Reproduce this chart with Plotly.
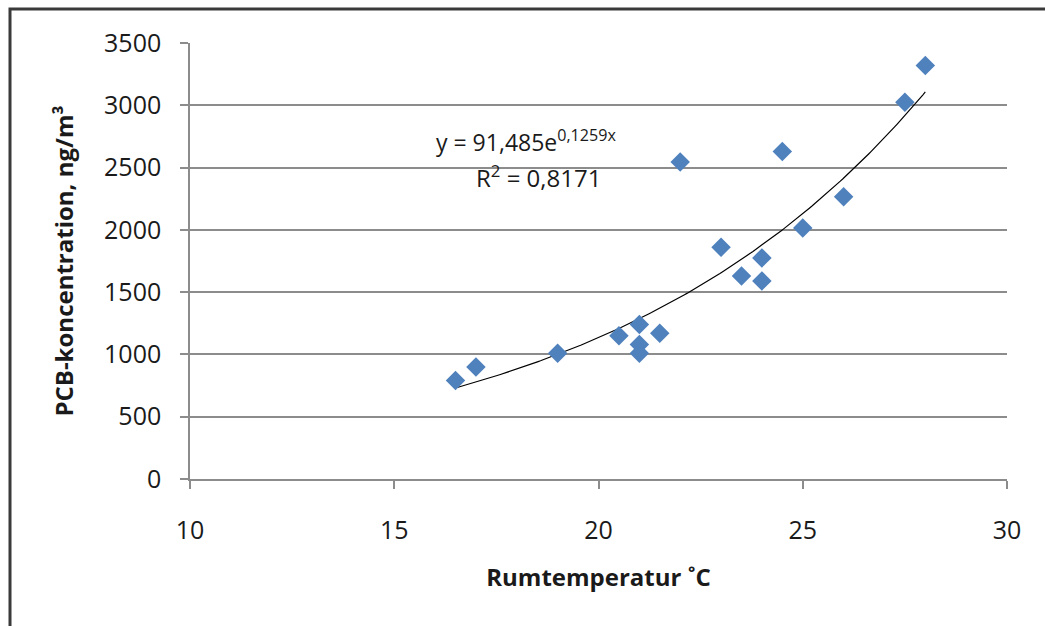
import numpy as np
import plotly.graph_objects as go

temperature = [16.5, 17.0, 19.0, 20.5, 21.0, 21.0, 21.0, 21.5, 22.0, 23.0, 23.5, 24.0, 24.0, 24.5, 25.0, 26.0, 27.5, 28.0]
pcb_conc = [790, 900, 1010, 1150, 1240, 1080, 1010, 1170, 2545, 1860, 1630, 1775, 1590, 2630, 2015, 2265, 3025, 3320]

fit_a = 91.485
fit_b = 0.1259
x_ticks = [10, 15, 20, 25, 30]
y_ticks = [0, 500, 1000, 1500, 2000, 2500, 3000, 3500]

FONT = "Open Sans"
W, H = 1045, 626
L, R, T, B = 190, 1007, 43, 479

tx = np.linspace(min(temperature), max(temperature), 200)
ty = fit_a * np.exp(fit_b * tx)

fig = go.Figure()
fig.add_trace(go.Scatter(x=tx, y=ty, mode="lines", line=dict(color="black", width=1.2),
                         showlegend=False, hoverinfo="skip"))
fig.add_trace(go.Scatter(x=temperature, y=pcb_conc, mode="markers",
                         marker=dict(symbol="diamond", size=15, color="#4F81BD",
                                     line=dict(width=0)),
                         showlegend=False))

def px_x(p):
    return (p - L) / (R - L)

def px_y(p):
    return (B - p) / (B - T)

fig.add_shape(type="rect", xref="paper", yref="paper",
              x0=px_x(10), x1=px_x(1060), y0=px_y(640), y1=px_y(9),
              line=dict(color="#3a3a3a", width=3), fillcolor="rgba(0,0,0,0)")

fig.add_annotation(x=px_x(526), y=px_y(122), xref="paper", yref="paper",
                   text="y = 91,485e<sup>0,1259x</sup>", showarrow=False,
                   font=dict(family=FONT, size=23, color="#1a1a1a"))
fig.add_annotation(x=px_x(538), y=px_y(157), xref="paper", yref="paper",
                   text="R<sup>2</sup> = 0,8171", showarrow=False,
                   font=dict(family=FONT, size=24, color="#1a1a1a"))

fig.update_layout(
    width=W, height=H,
    margin=dict(l=L, r=W - R, t=T, b=H - B),
    paper_bgcolor="white", plot_bgcolor="white",
    font=dict(family=FONT, size=25, color="#1a1a1a"),
    xaxis=dict(range=[10, 30], tickvals=x_ticks, showgrid=False, zeroline=False,
               showline=True, linecolor="#8c8c8c", linewidth=1.5,
               ticks="outside", ticklen=8, tickcolor="#8c8c8c", tickwidth=1.5,
               ticklabelstandoff=20,
               title=dict(text="<b>Rumtemperatur ˚C</b>", font=dict(family=FONT, size=24),
                          standoff=24)),
    yaxis=dict(range=[0, 3500], tickvals=y_ticks, showgrid=True, gridcolor="#8c8c8c",
               gridwidth=1.5, zeroline=False,
               showline=True, linecolor="#8c8c8c", linewidth=1.5,
               ticks="outside", ticklen=8, tickcolor="#8c8c8c", tickwidth=1.5,
               ticklabelstandoff=14,
               title=dict(text="<b>PCB-koncentration, ng/m³</b>", font=dict(family=FONT, size=24),
                          standoff=24)),
)

fig.write_html("out.html")
